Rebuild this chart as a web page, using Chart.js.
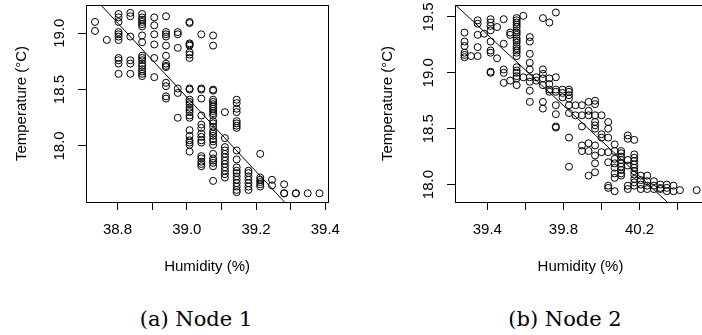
<!DOCTYPE html>
<html>
<head>
<meta charset="utf-8">
<script src="https://cdn.jsdelivr.net/npm/chart.js@4"></script>
<style>
html, body { margin: 0; padding: 0; background: #fff; overflow: hidden; width: 702px; height: 335px; }
#wrap { position: relative; width: 702px; height: 335px; overflow: hidden; }
canvas { position: absolute; top: 0; }
.cap { position: absolute; top: 306px; font-family: "DejaVu Serif", serif; font-size: 21px; line-height: 26px; white-space: nowrap; transform: translateX(-50%); color: #000; }
</style>
</head>
<body>
<div id="wrap">
  <canvas id="node1" width="351" height="290" style="left:0"></canvas>
  <canvas id="node2" width="360" height="290" style="left:351px"></canvas>
  <div class="cap" style="left:196px">(a) Node 1</div>
  <div class="cap" style="left:565px">(b) Node 2</div>
</div>
<script>
// Node 1: humidity columns and the temperatures measured at each
var node1Humidity = [38.735, 38.769, 38.803, 38.837, 38.871, 38.906, 38.940, 38.974, 39.008, 39.042,
                     39.076, 39.110, 39.144, 39.178, 39.212, 39.246, 39.281, 39.315, 39.349, 39.383];
var node1Temp = [
  [19.10, 19.02],
  [18.94],
  [19.17, 19.14, 19.10, 19.01, 18.99, 18.97, 18.94, 18.78, 18.76, 18.73, 18.64],
  [19.18, 19.15, 18.97, 18.76, 18.73, 18.64],
  [19.17, 19.14, 19.12, 19.10, 19.08, 19.06, 18.98, 18.92, 18.80, 18.78, 18.76, 18.73, 18.71, 18.68, 18.66, 18.64, 18.62],
  [19.14, 19.07, 18.99, 18.90, 18.78, 18.61],
  [19.15, 19.01, 18.99, 18.97, 18.89, 18.80, 18.73, 18.71, 18.70, 18.56, 18.53, 18.44, 18.42],
  [19.01, 18.99, 18.87, 18.51, 18.47, 18.25],
  [19.10, 19.09, 18.91, 18.90, 18.89, 18.83, 18.81, 18.78, 18.51, 18.50, 18.41, 18.39, 18.37, 18.34, 18.32, 18.30, 18.27, 18.25, 18.14, 18.09, 18.05, 18.03, 18.01, 17.95],
  [18.99, 18.51, 18.50, 18.42, 18.27, 18.19, 18.16, 18.11, 18.08, 18.05, 18.03, 17.91, 17.89, 17.86, 17.84, 17.82],
  [18.98, 18.89, 18.50, 18.49, 18.41, 18.39, 18.37, 18.35, 18.33, 18.31, 18.29, 18.27, 18.22, 18.20, 18.17, 18.13, 18.11, 18.09, 18.06, 18.04, 18.01, 17.93, 17.89, 17.87, 17.85, 17.82, 17.69],
  [18.30, 18.07, 17.99, 17.96, 17.93, 17.90, 17.87, 17.84, 17.81, 17.78, 17.75, 17.72],
  [18.41, 18.38, 18.33, 18.30, 18.22, 18.20, 18.18, 18.16, 17.96, 17.88, 17.81, 17.78, 17.76, 17.73, 17.70, 17.67, 17.64, 17.61, 17.59],
  [17.78, 17.76, 17.73, 17.70, 17.67, 17.64, 17.61],
  [17.93, 17.72, 17.70, 17.68, 17.66, 17.64],
  [17.70, 17.65],
  [17.66, 17.58, 17.58],
  [17.58, 17.58],
  [17.58],
  [17.58]
];
var node1Fit = [[38.752, 19.25], [39.282, 17.503]];
var node1XTicks = [38.8, 38.9, 39.0, 39.1, 39.2, 39.3, 39.4];
var node1XLabels = [38.8, 39.0, 39.2, 39.4];
var node1YTicks = [18.0, 18.5, 19.0];

// Node 2
var node2Humidity = [39.280, 39.314, 39.349, 39.383, 39.417, 39.451, 39.486, 39.520, 39.554, 39.589,
                     39.623, 39.657, 39.692, 39.726, 39.760, 39.795, 39.829, 39.863, 39.897, 39.932,
                     39.966, 40.000, 40.035, 40.069, 40.103, 40.138, 40.172, 40.206, 40.240, 40.275,
                     40.309, 40.343, 40.378, 40.412, 40.500];
var node2Temp = [
  [19.36, 19.28, 19.24, 19.18, 19.16, 19.14],
  [19.15],
  [19.47, 19.44, 19.34, 19.23, 19.15],
  [19.35],
  [19.48, 19.45, 19.42, 19.38, 19.28, 19.20, 19.18, 19.01, 19.00],
  [19.41, 19.13],
  [19.48, 19.26, 19.03, 19.00, 18.91],
  [19.36, 19.34, 18.93],
  [19.49, 19.47, 19.45, 19.43, 19.41, 19.38, 19.36, 19.34, 19.31, 19.29, 19.27, 19.24, 19.22, 19.20, 19.18, 19.15, 19.05, 19.02, 19.00, 18.97, 18.95, 18.89],
  [19.51, 18.96],
  [19.32, 19.28, 19.17, 19.09, 19.03, 18.96, 18.92, 18.84, 18.74],
  [18.96, 18.93],
  [19.49, 19.03, 18.99, 18.95, 18.89, 18.74, 18.68],
  [19.45, 18.95, 18.90, 18.85, 18.83],
  [19.54, 18.96, 18.85, 18.83, 18.71, 18.63, 18.52, 18.51],
  [18.85, 18.82, 18.78],
  [18.85, 18.83, 18.80, 18.77, 18.71, 18.64, 18.42, 18.16],
  [18.71, 18.62],
  [18.71, 18.62, 18.52, 18.35, 18.30],
  [18.74, 18.66, 18.62, 18.37, 18.30, 18.08],
  [18.75, 18.72, 18.62, 18.56, 18.53, 18.50, 18.35, 18.26, 18.19, 18.11],
  [18.62, 18.45, 18.42, 18.29],
  [18.56, 18.50, 18.42, 18.29, 18.20, 17.99, 17.97],
  [18.36, 18.30, 18.23, 18.19, 18.15, 18.10, 18.06, 17.94],
  [18.30, 18.28, 18.25, 18.22, 18.19, 18.16, 18.13, 18.10, 18.08],
  [18.44, 18.41, 18.22, 18.17, 17.99, 17.96],
  [18.40, 18.27, 18.24, 18.21, 18.18, 18.15, 18.12, 18.09, 18.05, 18.02, 17.99],
  [18.08, 18.04, 18.00, 17.96],
  [18.08, 18.03, 17.99, 17.96],
  [18.03, 17.99, 17.96],
  [18.00, 17.97, 17.96],
  [18.00, 17.97, 17.94],
  [17.99, 17.94],
  [17.95],
  [17.95]
];
var node2Fit = [[39.233, 19.607], [40.345, 17.844]];
var node2XTicks = [39.4, 39.6, 39.8, 40.0, 40.2, 40.4];
var node2XLabels = [39.4, 39.8, 40.2];
var node2YTicks = [18.0, 18.5, 19.0, 19.5];

var FONT = '"Liberation Sans", Arial, sans-serif';

function drawPanel(id, hum, temp, fit, xr, yr, xTicks, xLabels, yTicks, axisW, topPad, yTitlePad) {
  var pts = [];
  hum.forEach(function (h, i) {
    temp[i].forEach(function (t) { pts.push({ x: h, y: t }); });
  });

  var frame = {
    id: 'frame',
    afterDraw: function (chart) {
      var a = chart.chartArea, ctx = chart.ctx, ys = chart.scales.y;
      ctx.save();
      ctx.strokeStyle = '#000';
      ctx.lineWidth = 1;
      ctx.strokeRect(Math.round(a.left) + 0.5, Math.round(a.top) + 0.5,
                     Math.round(a.right - a.left), Math.round(a.bottom - a.top));
      ctx.fillStyle = '#000';
      ctx.font = '15px ' + FONT;
      ctx.textAlign = 'center';
      ctx.textBaseline = 'middle';
      yTicks.forEach(function (v) {
        ctx.save();
        ctx.translate(a.left - 26, ys.getPixelForValue(v));
        ctx.rotate(-Math.PI / 2);
        ctx.fillText(v.toFixed(1), 0, 0);
        ctx.restore();
      });
      ctx.restore();
    }
  };

  new Chart(id, {
    type: 'scatter',
    data: {
      datasets: [{
        data: pts,
        pointStyle: 'circle',
        pointRadius: 3.5,
        pointBorderWidth: 1,
        pointBorderColor: '#000',
        pointBackgroundColor: 'rgba(0,0,0,0)'
      }, {
        data: fit.map(function (p) { return { x: p[0], y: p[1] }; }),
        showLine: true,
        pointRadius: 0,
        borderColor: '#000',
        borderWidth: 1
      }]
    },
    options: {
      responsive: false,
      animation: false,
      events: [],
      layout: { padding: { left: 0, top: topPad, right: 0, bottom: 0 } },
      plugins: { legend: { display: false }, tooltip: { enabled: false } },
      scales: {
        x: {
          type: 'linear',
          min: xr[0], max: xr[1],
          afterBuildTicks: function (s) { s.ticks = xTicks.map(function (v) { return { value: v }; }); },
          afterFit: function (s) { s.height = 88; },
          border: { display: false },
          grid: { drawOnChartArea: false, drawTicks: true, tickLength: 8, color: '#000', lineWidth: 1 },
          ticks: {
            autoSkip: false, maxRotation: 0, padding: 11, color: '#000',
            font: { family: FONT, size: 15 },
            callback: function (v) { return xLabels.indexOf(v) >= 0 ? v.toFixed(1) : ''; }
          },
          title: { display: true, text: 'Humidity (%)', color: '#000', font: { family: FONT, size: 15 }, padding: { top: 0, bottom: 14.5 } }
        },
        y: {
          type: 'linear',
          min: yr[0], max: yr[1],
          afterBuildTicks: function (s) { s.ticks = yTicks.map(function (v) { return { value: v }; }); },
          afterFit: function (s) { s.width = axisW; },
          border: { display: false },
          grid: { drawOnChartArea: false, drawTicks: true, tickLength: 8, color: '#000', lineWidth: 1 },
          ticks: { display: false },
          title: { display: true, text: 'Temperature (\u00B0C)', color: '#000', font: { family: FONT, size: 15 }, padding: { top: yTitlePad, bottom: 0 } }
        }
      }
    },
    plugins: [frame]
  });
}

drawPanel('node1', node1Humidity, node1Temp, node1Fit, [38.709, 39.408], [17.503, 19.25],
          node1XTicks, node1XLabels, node1YTicks, 86, 4, 12.7);
drawPanel('node2', node2Humidity, node2Temp, node2Fit, [39.230, 40.549], [17.844, 19.607],
          node2XTicks, node2XLabels, node2YTicks, 104, 5, 27.7);
</script>
</body>
</html>
